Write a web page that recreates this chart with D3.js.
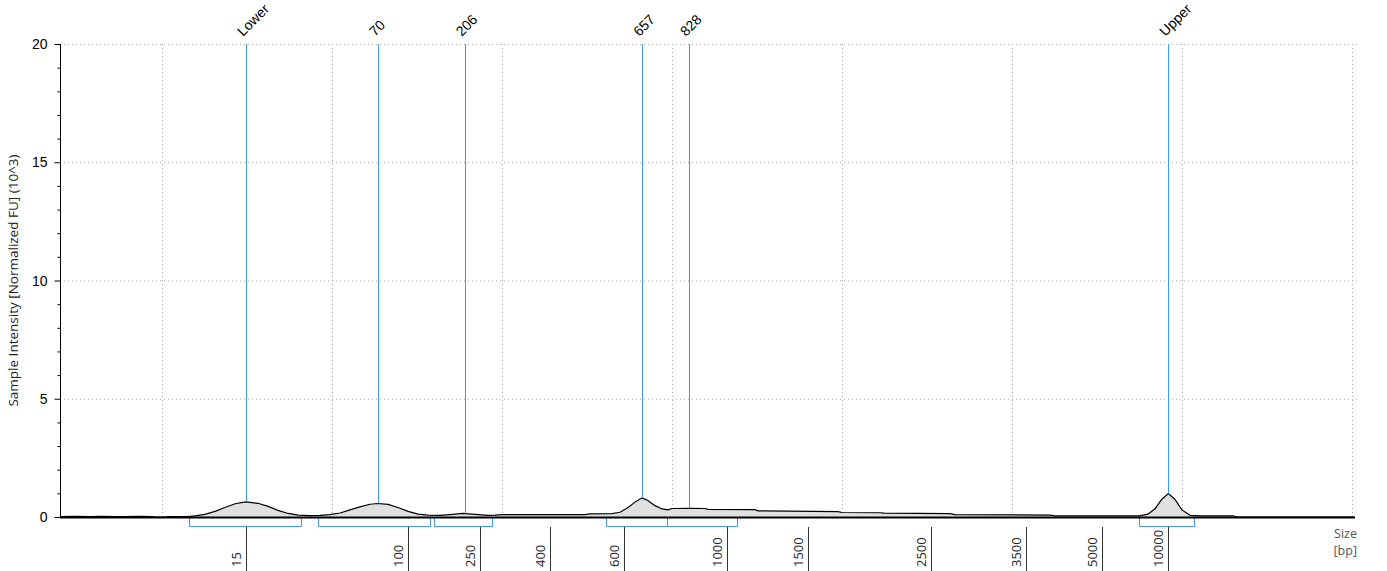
<!DOCTYPE html>
<html>
<head>
<meta charset="utf-8">
<script src="https://cdn.jsdelivr.net/npm/d3@7"></script>
<style>
  body { margin: 0; background: #fff; }
  svg { display: block; }
</style>
</head>
<body>
<div id="chart"></div>
<script>
// migration position of each trace sample, and its intensity (10^3 FU)
const traceTime = [17.00, 17.44, 17.88, 18.18, 18.62, 18.91, 19.35, 19.71, 19.79, 20.09,
  20.18, 20.76, 20.97, 21.26, 21.56, 21.85, 22.15, 22.47, 22.82, 23.12,
  23.41, 23.71, 24.00, 24.35, 24.65, 24.94, 25.24, 25.53, 25.82, 26.12,
  26.35, 26.65, 26.94, 27.24, 27.53, 27.82, 28.18, 28.47, 28.85, 29.21,
  29.59, 29.79, 30.03, 31.12, 32.44, 32.59, 33.24, 33.47, 33.71, 33.94,
  34.12, 34.29, 34.50, 34.71, 34.88, 35.00, 35.53, 35.97, 36.06, 37.44,
  37.53, 39.88, 40.00, 41.12, 41.24, 43.18, 43.32, 46.12, 46.26, 48.76,
  49.00, 49.21, 49.41, 49.60, 49.79, 50.00, 50.24, 50.53, 51.50, 51.62, 55.09];
const traceValue = [0.02, 0.03, 0.02, 0.03, 0.02, 0.02, 0.03, 0.02, 0.00, 0.00,
  0.02, 0.02, 0.05, 0.11, 0.24, 0.40, 0.56, 0.64, 0.58, 0.45,
  0.28, 0.15, 0.08, 0.06, 0.07, 0.10, 0.17, 0.30, 0.43, 0.54,
  0.57, 0.53, 0.40, 0.24, 0.12, 0.08, 0.07, 0.10, 0.15, 0.11,
  0.07, 0.08, 0.10, 0.10, 0.10, 0.13, 0.14, 0.20, 0.40, 0.66,
  0.81, 0.70, 0.48, 0.34, 0.30, 0.36, 0.37, 0.36, 0.32, 0.31,
  0.26, 0.23, 0.19, 0.18, 0.16, 0.14, 0.10, 0.08, 0.05, 0.05,
  0.12, 0.35, 0.75, 0.99, 0.75, 0.30, 0.07, 0.05, 0.05, 0.00, 0.00];

// ladder sizes (bp) and where they ran
const ladderSizes = [15, 100, 250, 400, 600, 1000, 1500, 2500, 3500, 5000, 10000];
const ladderTime = [22.47, 27.25, 29.35, 31.41, 33.59, 36.62, 39.0, 42.62, 45.41, 47.65, 49.6];

// called peaks
const peakLabels = ["Lower", "70", "206", "657", "828", "Upper"];
const peakSizes = [15, 70, 206, 657, 828, 10000];

// integration regions (migration position)
const regionFrom = [20.79, 24.59, 28.0, 33.06, 34.85, 48.74];
const regionTo = [24.09, 27.88, 29.71, 34.85, 36.91, 50.35];

const yTicks = [0, 5, 10, 15, 20];
const gridTimes = [20, 25, 30, 35, 40, 45, 50, 55];

const W = 1387, H = 571;
const mLeft = 60, mRight = 1355, mTop = 44, mBottom = 517;
const blue = "#3d9be0";

const svg = d3.select("#chart").append("svg")
  .attr("width", W).attr("height", H);

const x = d3.scaleLinear().domain([17, 55.09]).range([mLeft, mRight]);
const y = d3.scaleLinear().domain([0, 20]).range([mBottom, mTop]);
const sizeToTime = d3.scaleLog().domain(ladderSizes).range(ladderTime);
const traceAt = d3.scaleLinear().domain(traceTime).range(traceValue);

// dotted grid
svg.append("g")
  .selectAll("line")
  .data(yTicks.slice(1))
  .enter()
  .append("line")
  .attr("x1", mLeft).attr("x2", mRight + 2)
  .attr("y1", d => y(d) + 0.5).attr("y2", d => y(d) + 0.5)
  .attr("stroke", "#a8a8a8")
  .attr("stroke-dasharray", "1,3");

svg.append("g")
  .selectAll("line")
  .data(gridTimes)
  .enter()
  .append("line")
  .attr("x1", d => Math.round(x(d)) + 0.5).attr("x2", d => Math.round(x(d)) + 0.5)
  .attr("y1", mTop).attr("y2", mBottom)
  .attr("stroke", "#a8a8a8")
  .attr("stroke-dasharray", "1,3");

// trace
const pts = traceTime.map((t, i) => [t, traceValue[i]]);
svg.append("path")
  .datum(pts)
  .attr("fill", "#e0e0e0")
  .attr("d", d3.area().x(d => x(d[0])).y0(mBottom).y1(d => y(d[1])));
svg.append("path")
  .datum(pts)
  .attr("fill", "none")
  .attr("stroke", "#000")
  .attr("stroke-width", 1.2)
  .attr("d", d3.line().x(d => x(d[0])).y(d => y(d[1])));

// peak markers
const peaks = peakSizes.map((s, i) => ({ label: peakLabels[i], t: sizeToTime(s) }));
svg.append("g")
  .selectAll("line")
  .data(peaks)
  .enter()
  .append("line")
  .attr("x1", d => Math.round(x(d.t)) + 0.5).attr("x2", d => Math.round(x(d.t)) + 0.5)
  .attr("y1", mTop).attr("y2", d => y(traceAt(d.t)))
  .attr("stroke", blue);

svg.append("g")
  .selectAll("text")
  .data(peaks)
  .enter()
  .append("text")
  .attr("transform", d => `translate(${x(d.t) - 3},${mTop - 7}) rotate(-45)`)
  .attr("font-family", "Liberation Sans, Arial, sans-serif")
  .attr("font-size", 14)
  .text(d => d.label);

// region brackets
svg.append("g")
  .selectAll("path")
  .data(regionFrom.map((f, i) => [f, regionTo[i]]))
  .enter()
  .append("path")
  .attr("fill", "none")
  .attr("stroke", blue)
  .attr("d", d => {
    const a = Math.round(x(d[0])) + 0.5, b = Math.round(x(d[1])) + 0.5;
    return `M${a},${mBottom + 1}V${mBottom + 9.5}H${b}V${mBottom + 1}`;
  });

// y axis
const yAxis = svg.append("g").attr("transform", `translate(${mLeft + 0.5},0)`);
yAxis.append("line").attr("y1", mTop).attr("y2", mBottom).attr("stroke", "#000");
yAxis.selectAll(".minor")
  .data(d3.range(0, 21))
  .enter()
  .append("line")
  .attr("x1", d => (d % 5 === 0 ? -6 : -3)).attr("x2", 0)
  .attr("y1", d => y(d) + 0.5).attr("y2", d => y(d) + 0.5)
  .attr("stroke", "#000");
yAxis.selectAll("text")
  .data(yTicks)
  .enter()
  .append("text")
  .attr("x", -13)
  .attr("y", d => y(d))
  .attr("dy", "0.36em")
  .attr("text-anchor", "end")
  .attr("font-family", "Liberation Sans, Arial, sans-serif")
  .attr("font-size", 14)
  .text(d => d);

svg.append("text")
  .attr("transform", `translate(18,${(mTop + mBottom) / 2}) rotate(-90)`)
  .attr("text-anchor", "middle")
  .attr("font-family", "Open Sans, sans-serif")
  .attr("font-size", 13.5)
  .attr("fill", "#222")
  .text("Sample Intensity [Normalized FU] (10^3)");

// x axis (size ladder)
svg.append("line")
  .attr("x1", mLeft).attr("x2", mRight)
  .attr("y1", mBottom + 0.5).attr("y2", mBottom + 0.5)
  .attr("stroke", "#000").attr("stroke-width", 2);

const xAxis = svg.append("g");
xAxis.selectAll("line")
  .data(ladderSizes)
  .enter()
  .append("line")
  .attr("x1", d => Math.round(x(sizeToTime(d))) + 0.5)
  .attr("x2", d => Math.round(x(sizeToTime(d))) + 0.5)
  .attr("y1", mBottom + 10).attr("y2", H)
  .attr("stroke", "#333");
xAxis.selectAll("text")
  .data(ladderSizes)
  .enter()
  .append("text")
  .attr("transform", d => `translate(${x(sizeToTime(d)) - 5},${H - 4}) rotate(-90)`)
  .attr("font-family", "Open Sans, sans-serif")
  .attr("font-size", 13)
  .attr("fill", "#222")
  .text(d => d);

svg.append("text")
  .attr("x", mRight + 2).attr("y", 538)
  .attr("text-anchor", "end")
  .attr("font-family", "Open Sans, sans-serif")
  .attr("font-size", 12.5)
  .attr("fill", "#555")
  .text("Size");
svg.append("text")
  .attr("x", mRight + 2).attr("y", 555)
  .attr("text-anchor", "end")
  .attr("font-family", "Open Sans, sans-serif")
  .attr("font-size", 12.5)
  .attr("fill", "#555")
  .text("[bp]");
</script>
</body>
</html>
